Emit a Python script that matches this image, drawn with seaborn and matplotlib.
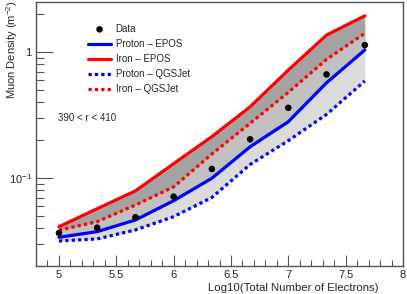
import numpy as np
import pandas as pd
import matplotlib
matplotlib.use("Agg")
import matplotlib.pyplot as plt
from matplotlib.ticker import MultipleLocator, FixedLocator, NullFormatter
import seaborn as sns

# --- DATA ---
log_ne = [5.0, 5.333, 5.667, 6.0, 6.333, 6.667, 7.0, 7.333, 7.667]
data_density = [0.0366, 0.0403, 0.0488, 0.0711, 0.118, 0.203, 0.361, 0.665, 1.137]
proton_epos = [0.0338, 0.0375, 0.0464, 0.066, 0.0995, 0.177, 0.28, 0.57, 1.04]
iron_epos = [0.041, 0.057, 0.079, 0.130, 0.213, 0.368, 0.72, 1.365, 1.94]
proton_qgsjet = [0.0316, 0.0328, 0.0387, 0.0493, 0.070, 0.128, 0.198, 0.32, 0.589]
iron_qgsjet = [0.0385, 0.045, 0.061, 0.085, 0.155, 0.272, 0.479, 0.875, 1.41]
radius_label = "390 < r < 410"

sns.set_style("white")
plt.rcParams['font.family'] = ['Liberation Sans', 'DejaVu Sans']
plt.rcParams['mathtext.fontset'] = 'custom'
plt.rcParams['mathtext.rm'] = 'Liberation Sans'
plt.rcParams['mathtext.it'] = 'Liberation Sans'

df = pd.DataFrame({
    "x": log_ne,
    "data": data_density,
    "p_epos": proton_epos,
    "fe_epos": iron_epos,
    "p_qgs": proton_qgsjet,
    "fe_qgs": iron_qgsjet,
})

fig = plt.figure(figsize=(4.07, 2.94), dpi=100)
ax = fig.add_axes([36 / 407, 1 - 266 / 294, 367 / 407, 264 / 294])

# bands
ax.fill_between(df["x"], df["p_epos"], df["fe_epos"], color="#a3a3a3", lw=0, zorder=1)
ax.fill_between(df["x"], df["p_qgs"], df["fe_qgs"], color="#cdcdcd", alpha=0.72, lw=0, zorder=2)

lw = 2.3
sns.lineplot(data=df, x="x", y="p_epos", ax=ax, color="#0000ff", lw=lw, label="Proton \u2013 EPOS", zorder=4)
sns.lineplot(data=df, x="x", y="fe_epos", ax=ax, color="#ff0000", lw=lw, label="Iron \u2013 EPOS", zorder=4)
sns.lineplot(data=df, x="x", y="p_qgs", ax=ax, color="#0000ff", lw=lw, label="Proton \u2013 QGSJet",
             linestyle=(0, (1, 1)), zorder=4)
sns.lineplot(data=df, x="x", y="fe_qgs", ax=ax, color="#ff0000", lw=lw, label="Iron \u2013 QGSJet",
             linestyle=(0, (1, 1)), zorder=4)
sns.scatterplot(data=df, x="x", y="data", ax=ax, color="black", s=22, edgecolor="none",
                label="Data", zorder=5)

ax.set_yscale("log")
ax.set_xlim(4.8, 8.0)
ax.set_ylim(0.02, 2.5)

ax.set_xticks([5, 5.5, 6, 6.5, 7, 7.5, 8])
ax.set_xticklabels(["5", "5.5", "6", "6.5", "7", "7.5", "8"])
ax.xaxis.set_minor_locator(MultipleLocator(0.1))
ax.yaxis.set_major_locator(FixedLocator([0.1, 1.0]))
minors = [m * 10.0 ** e for e in (-2, -1, 0) for m in range(2, 10)]
ax.yaxis.set_minor_locator(FixedLocator(minors))
ax.yaxis.set_minor_formatter(NullFormatter())
ax.set_yticklabels(["$10^{-1}$", "1"])

ax.tick_params(axis="both", which="both", direction="in", labelsize=8, color="#555555",
               top=False, right=False, bottom=True, left=True, pad=3)
ax.tick_params(axis="x", which="major", length=8, width=0.8)
ax.tick_params(axis="x", which="minor", length=4, width=0.8)
ax.tick_params(axis="y", which="major", length=12, width=0.8)
ax.tick_params(axis="y", which="minor", length=6, width=0.8)
for s in ax.spines.values():
    s.set_color("#555555")
    s.set_linewidth(1.0)

ax.set_xlabel("Log10(Total Number of Electrons)", fontsize=8.2, ha="right")
ax.xaxis.set_label_coords((379 - 36) / 367, -(283 - 266) / 264, transform=ax.transAxes)
ax.xaxis.label.set_va("top")
ax.set_ylabel("Muon Density (m$^{-2}$)", fontsize=8, ha="right")
ax.yaxis.set_label_coords((20 - 36) / 367, 1.005)

handles, labels = ax.get_legend_handles_labels()
order = [labels.index(l) for l in ["Data", "Proton \u2013 EPOS", "Iron \u2013 EPOS",
                                    "Proton \u2013 QGSJet", "Iron \u2013 QGSJet"]]
ax.legend([handles[i] for i in order], [labels[i] for i in order], loc="upper left",
          bbox_to_anchor=((84 - 36) / 367, (266 - 20) / 264), frameon=False, fontsize=7,
          handlelength=2.4, handletextpad=0.45, labelspacing=0.52, borderaxespad=0)

ax.text(0.06, 1 - (118 - 2) / 264, radius_label, transform=ax.transAxes, fontsize=7,
        va="center", ha="left")

fig.savefig("out.png", dpi=100)
